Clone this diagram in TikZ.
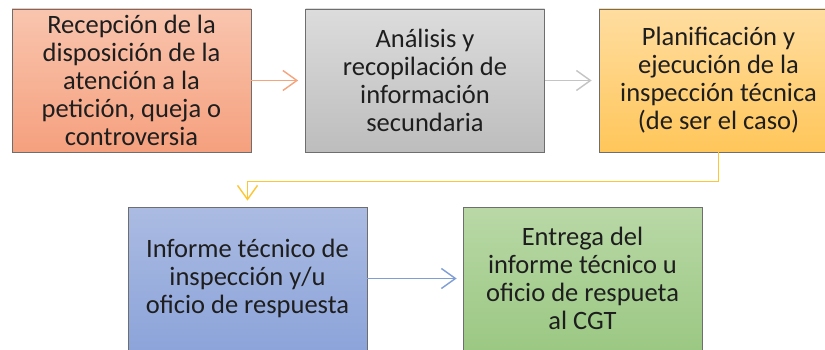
\documentclass[tikz,border=0pt]{standalone}
\usepackage{fontspec}
\setmainfont{Carlito}
\usetikzlibrary{arrows.meta}
\definecolor{orT}{HTML}{F9C5AE}
\definecolor{orB}{HTML}{F5A07E}
\definecolor{grT}{HTML}{DCDCDC}
\definecolor{grB}{HTML}{BDBDBD}
\definecolor{yeT}{HTML}{FFDDA0}
\definecolor{yeB}{HTML}{FFC65A}
\definecolor{blT}{HTML}{ABBBE2}
\definecolor{blB}{HTML}{8CA4DA}
\definecolor{gnT}{HTML}{B9D8A6}
\definecolor{gnB}{HTML}{9BC883}
\definecolor{orL}{HTML}{F4A57E}
\definecolor{grL}{HTML}{C4C4C4}
\definecolor{yeL}{HTML}{FFC634}
\definecolor{blL}{HTML}{7F9ED6}
\definecolor{txt}{HTML}{1E1E1E}
\definecolor{edge}{HTML}{6E6E6E}
\tikzset{
  procbox/.style={rectangle, draw=edge, line width=0.8pt, minimum width=239pt,
    minimum height=143pt, inner sep=0pt, align=center, text=txt,
    font=\fontsize{26.5}{28}\selectfont},
  flow/.style={line width=1.4pt, -{Straight Barb[length=14pt,width=20pt,line width=1.4pt]}, shorten >=7pt}
}
\begin{document}
\begin{tikzpicture}[x=1pt,y=-1pt]
\useasboundingbox (0,0) rectangle (825,350);
\node[procbox, top color=orT, bottom color=orB] (b1) at (131.5,80.5)
  {Recepción de la\\disposición de la\\atención a la\\petición, queja o\\controversia};
\node[procbox, top color=grT, bottom color=grB] (b2) at (425,80.5)
  {Análisis y\\recopilación de\\información\\secundaria};
\node[procbox, top color=yeT, bottom color=yeB] (b3) at (718.5,80.5)
  {Planificación y\\ejecución de la\\inspección técnica\\(de ser el caso)};
\node[procbox, top color=blT, bottom color=blB] (b4) at (247.5,278.5)
  {Informe técnico de\\inspección y/u\\oficio de respuesta};
\node[procbox, top color=gnT, bottom color=gnB] (b5) at (582.5,278.5)
  {Entrega del\\informe técnico u\\oficio de respueta\\al CGT};
\draw[flow, orL] (b1.east) -- (b2.west);
\draw[flow, grL] (b2.east) -- (b3.west);
\draw[flow, yeL, shorten >=6pt] (b3.south) -- ++(0,29) -| (b4.north);
\draw[flow, blL, shorten >=6pt] (b4.east) -- (b5.west);
\end{tikzpicture}
\end{document}
